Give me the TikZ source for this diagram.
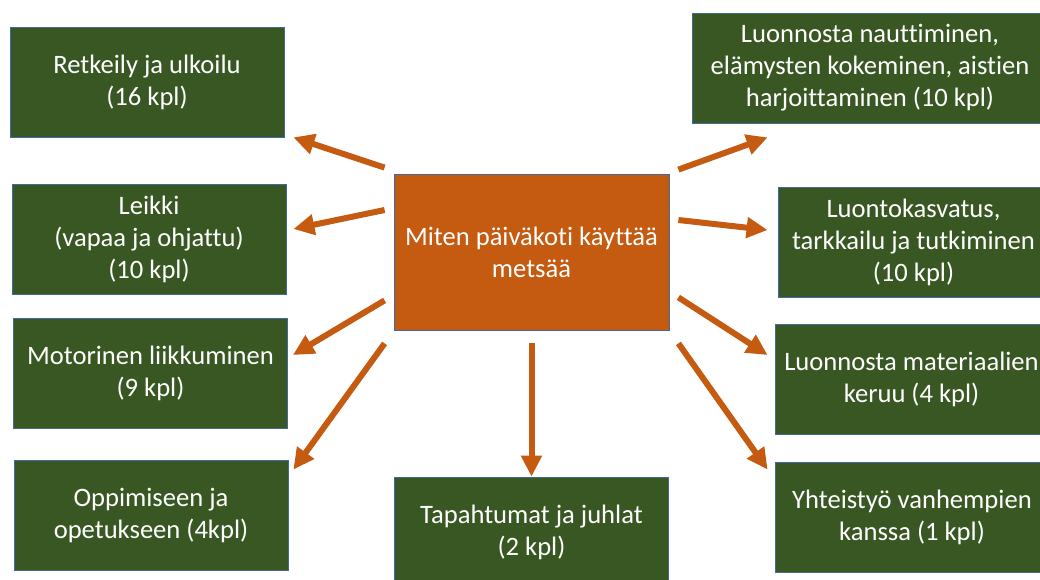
\documentclass[tikz,border=0pt]{standalone}
\usepackage{fontspec}
\setmainfont{Carlito}[Ligatures=CommonOff]
\usetikzlibrary{arrows.meta,calc}
\definecolor{leaf}{RGB}{56,87,35}
\definecolor{rust}{RGB}{197,90,17}
\definecolor{rim}{RGB}{65,105,160}
\begin{document}
\begin{tikzpicture}[x=1pt, y=-1pt,
  topic/.style = {draw=rim, line width=0.8pt, fill=leaf, text=white, align=center, inner sep=0pt, minimum width=274pt, minimum height=110pt, font=\fontsize{26.6}{32}\selectfont},
  main/.style = {topic, fill=rust, minimum width=275pt, minimum height=156pt},
  arr/.style = {draw=rust, line width=6pt, -{Triangle[length=21pt,width=20pt]}}]
\clip (0,0) rectangle (1040,579);
\node[main] (mid) at (531.5,252) {Miten päiväkoti käyttää\\metsää};
\node[topic] (ret) at (147,82) {Retkeily ja ulkoilu\\(16 kpl)};
\node[topic] (lei) at (149,239.5) {Leikki\\(vapaa ja ohjattu)\\(10 kpl)};
\node[topic] (mot) at (150.5,373) {Motorinen liikkuminen\\(9 kpl)};
\node[topic] (opp) at (151,515) {Oppimiseen ja\\opetukseen (4kpl)};
\node[topic] (tap) at (531.5,532) {Tapahtumat ja juhlat\\(2 kpl)};
\node[topic, minimum width=356pt] (nau) at (870,68) {Luonnosta nauttiminen,\\elämysten kokeminen, aistien\\harjoittaminen (10 kpl)};
\node[topic, minimum width=271pt] (luo) at (913.5,242) {Luontokasvatus,\\tarkkailu ja tutkiminen\\(10 kpl)};
\node[topic, minimum width=273pt] (mat) at (911.5,379.5) {Luonnosta materiaalien\\keruu (4 kpl)};
\node[topic] (yht) at (912,517) {Yhteistyö vanhempien\\kanssa (1 kpl)};
% left side
\draw[arr] ($(mid.north west)+(-9,-6)$) -- ($(ret.south east)+(9,0)$);
\draw[arr] ($(mid.west)+(-9,-42)$) -- ($(lei.east)+(7,-10.5)$);
\draw[arr] ($(mid.south west)+(-9,-30)$) -- ($(mot.east)+(5,-18)$);
\draw[arr] ($(mid.south west)+(-9,13)$) -- ($(opp.north east)+(5,10)$);
% down
\draw[arr] ($(mid.south)+(0,13)$) -- (tap.north);
% right side
\draw[arr] ($(mid.north east)+(9,-4)$) -- ($(nau.south west)+(76,14)$);
\draw[arr] ($(mid.east)+(9,-32)$) -- ($(luo.west)+(-10,-12)$);
\draw[arr] ($(mid.south east)+(9,-33)$) -- ($(mat.west)+(-7,-24.5)$);
\draw[arr] ($(mid.south east)+(9,13)$) -- ($(yht.north west)+(-7,8)$);
\end{tikzpicture}
\end{document}
